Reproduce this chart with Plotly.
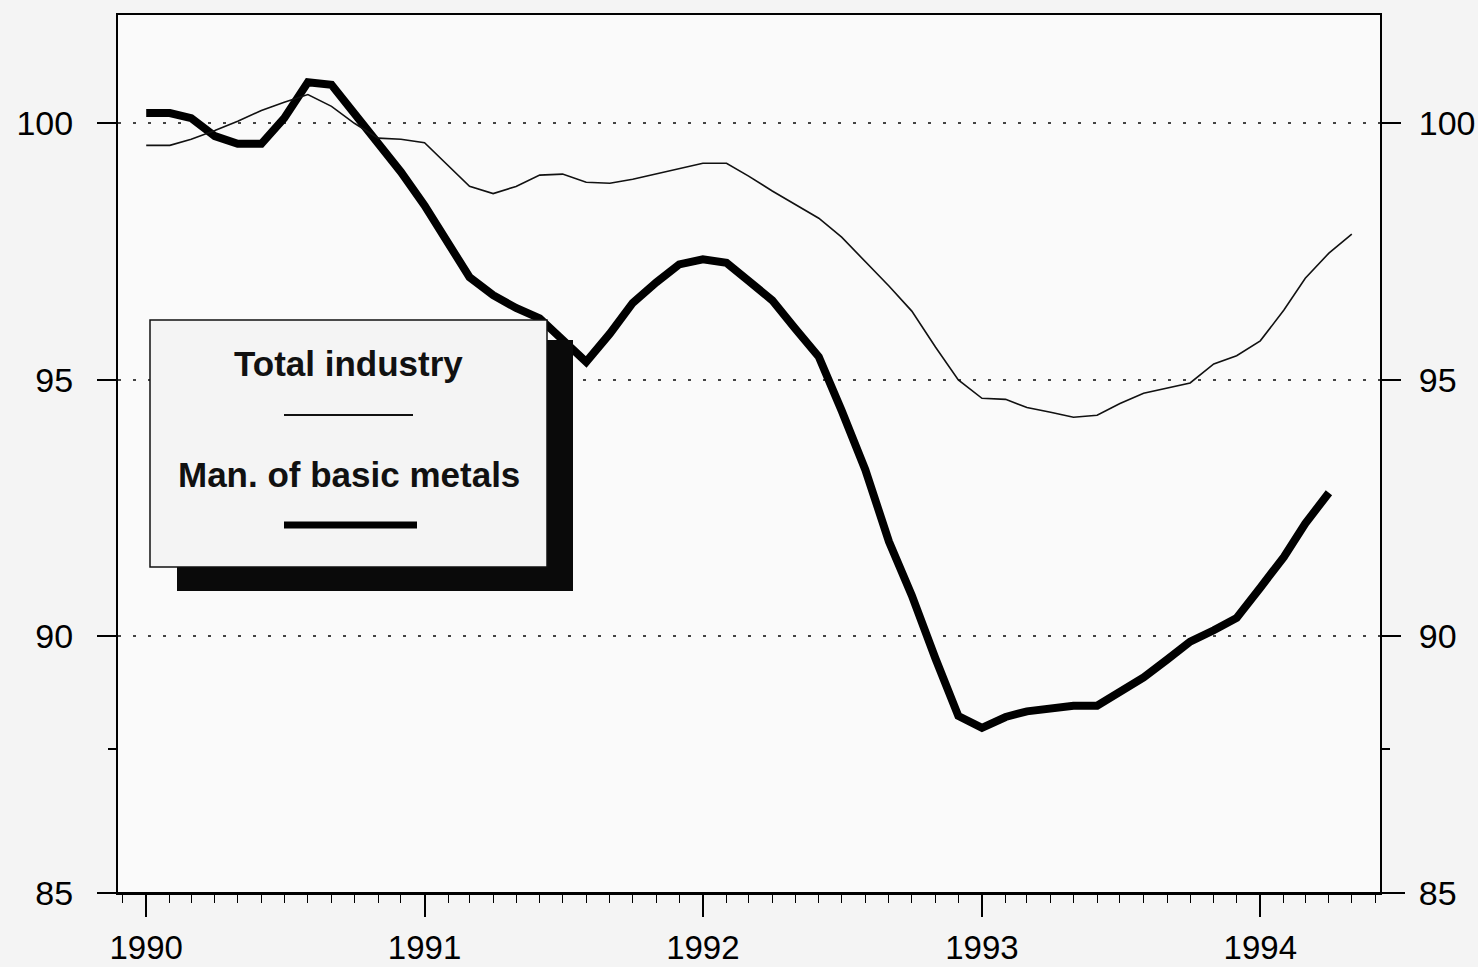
import pandas as pd
import plotly.graph_objects as go

# ---- data (monthly index, 1990 = 100 scale) ----
series_names = ["Total industry", "Man. of basic metals"]
start_month = "1990-01-01"

total_industry = [
    99.57, 99.57, 99.69, 99.86, 100.04, 100.25, 100.41, 100.56, 100.33, 100.0, 99.71, 99.69,
    99.62, 99.18, 98.77, 98.63, 98.77, 98.99, 99.01, 98.85, 98.83, 98.91, 99.01, 99.12,
    99.22, 99.22, 98.97, 98.68, 98.42, 98.15, 97.78, 97.30, 96.83, 96.34, 95.64, 95.00,
    94.64, 94.62, 94.46, 94.37, 94.27, 94.31, 94.54, 94.74, 94.84, 94.94, 95.31, 95.47,
    95.76, 96.36, 96.98, 97.47, 97.84,
]
basic_metals = [
    100.20, 100.20, 100.10, 99.75, 99.60, 99.60, 100.10, 100.80, 100.75, 100.20, 99.60, 99.05,
    98.40, 97.70, 97.00, 96.65, 96.40, 96.20, 95.80, 95.35, 95.90, 96.50, 96.90, 97.25,
    97.35, 97.28, 96.93, 96.55, 96.00, 95.45, 94.40, 93.25, 91.85, 90.80, 89.57, 88.45,
    88.22, 88.43, 88.54, 88.60, 88.65, 88.65, 88.90, 89.20, 89.55, 89.90, 90.12, 90.36,
    90.95, 91.55, 92.20, 92.80,
]
y_ticks = [85, 90, 95, 100]
x_range = ["1989-11-25", "1994-06-07"]
y_range = [85, 102.11]

dates_total = pd.date_range(start_month, periods=len(total_industry), freq="MS")
dates_metals = pd.date_range(start_month, periods=len(basic_metals), freq="MS")

FONT = "Liberation Sans, Arial, sans-serif"

fig = go.Figure()
fig.add_trace(go.Scatter(x=dates_total, y=total_industry, mode="lines",
                         name=series_names[0], yaxis="y2",
                         line=dict(color="#111111", width=1.6)))
fig.add_trace(go.Scatter(x=dates_metals, y=basic_metals, mode="lines",
                         name=series_names[1],
                         line=dict(color="#000000", width=8)))

# plot area geometry (pixels) for legend decorations
W, H = 1478, 967
L, R, T, B = 118, 98, 15, 74
pw, ph = W - L - R, H - T - B


def px(x):
    return (x - L) / pw


def py(y):
    return (H - B - y) / ph


shapes = [
    # legend shadow
    dict(type="rect", xref="paper", yref="paper", x0=px(177), x1=px(573), y0=py(591), y1=py(340),
         fillcolor="#0a0a0a", line=dict(width=0), layer="above"),
    # legend box
    dict(type="rect", xref="paper", yref="paper", x0=px(150), x1=px(547), y0=py(567), y1=py(320),
         fillcolor="#f4f4f4", line=dict(color="#111111", width=1.5), layer="above"),
    # legend samples
    dict(type="line", xref="paper", yref="paper", x0=px(284), x1=px(413), y0=py(415), y1=py(415),
         line=dict(color="#111111", width=2), layer="above"),
    dict(type="line", xref="paper", yref="paper", x0=px(284), x1=px(417), y0=py(525), y1=py(525),
         line=dict(color="#000000", width=7), layer="above"),
    # extended base line
    dict(type="line", xref="paper", yref="paper", x0=px(102), x1=px(1405), y0=0, y1=0,
         line=dict(color="#000000", width=2), layer="above"),
]

annotations = [
    dict(xref="paper", yref="paper", x=px(348), y=py(363), text="<b>" + series_names[0] + "</b>",
         showarrow=False, font=dict(family=FONT, size=35, color="#111111"),
         xanchor="center", yanchor="middle"),
    dict(xref="paper", yref="paper", x=px(349), y=py(475), text="<b>" + series_names[1] + "</b>",
         showarrow=False, font=dict(family=FONT, size=35, color="#111111"),
         xanchor="center", yanchor="middle"),
]

yaxis_common = dict(
    range=y_range, tickmode="array", tickvals=y_ticks, ticktext=[str(v) for v in y_ticks],
    ticks="outside", ticklen=19, tickwidth=2, tickcolor="#000000",
    showline=True, linecolor="#000000", linewidth=2,
    tickfont=dict(family=FONT, size=34, color="#000000"),
    zeroline=False, automargin=False,
    minor=dict(tickvals=[87.8], ticks="outside", ticklen=8, tickcolor="#000000", tickwidth=1.5,
               showgrid=False),
)

fig.update_layout(
    width=W, height=H,
    margin=dict(l=L, r=R, t=T, b=B, pad=0),
    paper_bgcolor="#f4f4f4",
    plot_bgcolor="#fafafa",
    showlegend=False,
    font=dict(family=FONT, color="#000000"),
    xaxis=dict(
        type="date", range=x_range, tick0="1990-01-01", dtick="M12", tickformat="%Y",
        ticks="outside", ticklen=22, tickwidth=1.5, tickcolor="#000000",
        showline=True, mirror=True, linecolor="#000000", linewidth=2,
        showgrid=False, zeroline=False, automargin=False,
        tickfont=dict(family=FONT, size=33, color="#000000"),
        ticklabelstandoff=2,
        minor=dict(dtick="M1", tick0="1990-01-01", ticks="outside", ticklen=8,
                   tickcolor="#000000", tickwidth=1, showgrid=False),
    ),
    yaxis=dict(**yaxis_common, side="left", showgrid=True, gridcolor="#444444",
               griddash="3px,12px", gridwidth=2, ticklabelstandoff=17),
    yaxis2=dict(**yaxis_common, side="right", overlaying="y", matches="y", showgrid=False,
                ticklabelstandoff=11),
    shapes=shapes,
    annotations=annotations,
)

fig.write_html(
    "out.html",
    config={"displayModeBar": False},
    post_script="document.body.style.margin='0';document.body.style.overflow='hidden';",
)
